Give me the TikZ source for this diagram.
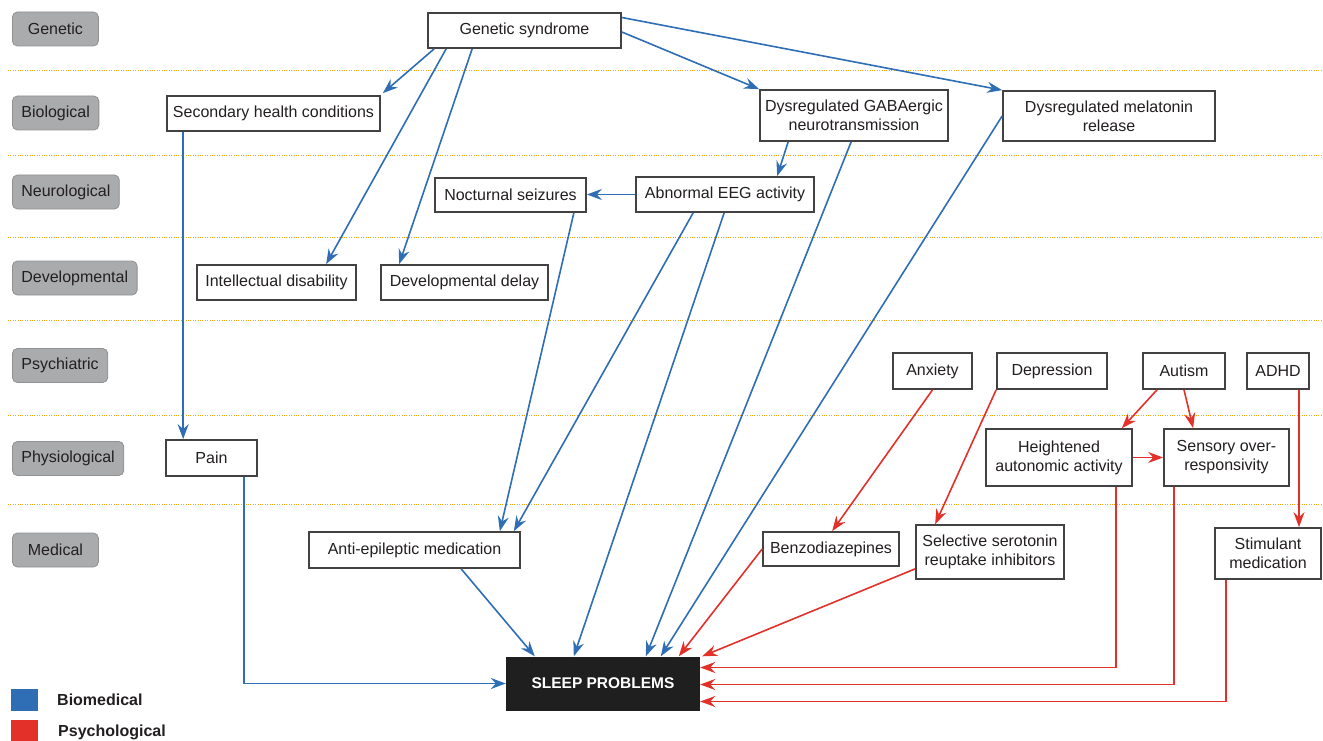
\documentclass[tikz,border=0pt]{standalone}
\usepackage{fontspec}
\setmainfont{Liberation Sans}
\usetikzlibrary{arrows.meta}
\definecolor{biomed}{HTML}{2F6DB5}
\definecolor{psych}{HTML}{E3312A}
\definecolor{tier}{HTML}{F7A30F}
\definecolor{tierbox}{HTML}{A9ABAD}
\definecolor{ink}{HTML}{231F20}

\begin{document}
\begin{tikzpicture}[x=1pt, y=-1pt,
  every node/.style={font=\fontsize{16}{19}\selectfont, text=ink},
  box/.style={draw=ink!85, line width=1.7pt, fill=white, inner sep=0pt, align=center},
  tierlabel/.style={anchor=west, fill=tierbox, draw=tierbox!85!black, line width=0.8pt,
    rounded corners=5pt, minimum width=86pt, minimum height=34pt, inner xsep=9pt},
  tierline/.style={tier, line width=1pt, dash pattern=on 1pt off 1.4pt},
  bio/.style={biomed, line width=1.6pt, -{Stealth[length=15pt, width=11pt, inset=5pt]}},
  psy/.style={psych, line width=1.6pt, -{Stealth[length=15pt, width=11pt, inset=5pt]}}]
  \useasboundingbox (0,0) rectangle (1323,741);

  \foreach \y in {71,156,237,320,415,504}
    \draw[tierline] (8,\y) -- (1323,\y);

  \foreach \y/\txt/\nm in {29/Genetic/genetic, 113/Biological/biological,
      192/Neurological/neurological, 278/Developmental/developmental,
      365.5/Psychiatric/psychiatric, 458.5/Physiological/physiological, 550/Medical/medical}
    \node[tierlabel] (\nm) at (12,\y) {\txt};

  \node[box, minimum width=193pt, minimum height=35pt] (gen) at (524.5,30.5) {Genetic syndrome};
  \node[box, minimum width=213pt, minimum height=35pt] (shc) at (273.5,113.5) {Secondary health conditions};
  \node[box, minimum width=188pt, minimum height=51pt] (gaba) at (854,115.5) {Dysregulated GABAergic\\neurotransmission};
  \node[box, minimum width=212pt, minimum height=50pt] (mel) at (1109,116) {Dysregulated melatonin\\release};
  \node[box, minimum width=151pt, minimum height=34pt] (noc) at (510.5,195) {Nocturnal seizures};
  \node[box, minimum width=178pt, minimum height=35pt] (eeg) at (725,194.5) {Abnormal EEG activity};
  \node[box, minimum width=159pt, minimum height=35pt] (intel) at (276.5,282.5) {Intellectual disability};
  \node[box, minimum width=167pt, minimum height=35pt] (ddel) at (464.5,282.5) {Developmental delay};
  \node[box, minimum width=79pt, minimum height=36pt] (anx) at (932.5,371) {Anxiety};
  \node[box, minimum width=110pt, minimum height=36pt] (dep) at (1052,371) {Depression};
  \node[box, minimum width=82pt, minimum height=36pt] (aut) at (1184,371) {Autism};
  \node[box, minimum width=62pt, minimum height=36pt] (adhd) at (1278,371) {ADHD};
  \node[box, minimum width=91pt, minimum height=36pt] (pain) at (211.5,458) {Pain};
  \node[box, minimum width=146pt, minimum height=57pt] (heat) at (1059,457.5) {Heightened\\autonomic activity};
  \node[box, minimum width=125pt, minimum height=57pt] (sens) at (1226.5,457.5) {Sensory over-\\responsivity};
  \node[box, minimum width=211pt, minimum height=36pt] (aed) at (414.5,550) {Anti-epileptic medication};
  \node[box, minimum width=136pt, minimum height=34pt] (benzo) at (831,549) {Benzodiazepines};
  \node[box, minimum width=148pt, minimum height=54pt] (ssri) at (990,552) {Selective serotonin\\reuptake inhibitors};
  \node[box, minimum width=106pt, minimum height=51pt] (stim) at (1268,553.5) {Stimulant\\medication};
  \node[fill=black!88, text=white, minimum width=194pt, minimum height=54pt,
    font=\fontsize{15.5}{18}\selectfont\bfseries] (sleep) at (603,683.5) {SLEEP PROBLEMS};

  \draw[bio] ([xshift=7pt]gen.south west) -- ([xshift=2pt,yshift=2pt]shc.north east);
  \draw[bio] ([xshift=19pt]gen.south west) -- ([xshift=130pt]intel.north west);
  \draw[bio] ([xshift=45pt]gen.south west) -- ([xshift=19pt]ddel.north west);
  \draw[bio] ([yshift=-1.5pt]gen.east) -- (gaba.north west);
  \draw[bio] ([yshift=13pt]gen.east) -- (mel.north west);
  \draw[bio] ([xshift=29pt]gaba.south west) -- ([xshift=142pt]eeg.north west);
  \draw[bio] (eeg.west) -- (eeg.west -| noc.east);
  \draw[bio] ([xshift=17pt]shc.south west) -- ([xshift=17pt]shc.south west |- pain.north);
  \draw[bio] ([xshift=-13pt]noc.south east) -- ([xshift=-21pt]aed.north east);
  \draw[bio] ([xshift=58pt]eeg.south west) -- ([xshift=-7pt]aed.north east);
  \draw[bio] ([xshift=89pt]eeg.south west) -- ([xshift=68pt]sleep.north west);
  \draw[bio] ([xshift=92pt]gaba.south west) -- ([xshift=140pt]sleep.north west);
  \draw[bio] (mel.west) -- ([xshift=155pt]sleep.north west);
  \draw[bio] ([xshift=153pt]aed.south west) -- ([xshift=29pt]sleep.north west);
  \draw[bio] ([xshift=79pt]pain.south west) |- (sleep.west);

  \draw[psy] (anx.south) -- ([xshift=70pt]benzo.north west);
  \draw[psy] (dep.south west) -- ([xshift=20pt]ssri.north west);
  \draw[psy] ([xshift=-27pt]aut.south) -- ([xshift=-11pt]heat.north east);
  \draw[psy] (aut.south) -- ([xshift=30pt]sens.north west);
  \draw[psy] (heat.east) -- (sens.west);
  \draw[psy] ([xshift=21pt]adhd.south) -- ([xshift=21pt]adhd.south |- stim.north);
  \draw[psy] (benzo.west) -- ([xshift=173pt]sleep.north west);
  \draw[psy] ([yshift=11pt]ssri.south west) -- ([xshift=2pt]sleep.north east);
  \draw[psy] ([xshift=-17pt]heat.south east) |- ([yshift=16pt]sleep.east);
  \draw[psy] ([xshift=11pt]sens.south west) |- ([yshift=-1pt]sleep.east);
  \draw[psy] ([xshift=12pt]stim.south west) |- ([yshift=-18pt]sleep.east);

  \fill[biomed] (11,689) rectangle (38,711);
  \fill[psych] (11,720) rectangle (38,741);
  \node[anchor=west, inner sep=0pt, font=\fontsize{16}{19}\selectfont\bfseries] (legbio) at (57,700) {Biomedical};
  \node[anchor=west, inner sep=0pt, font=\fontsize{16}{19}\selectfont\bfseries] (legpsy) at (58,732) {Psychological};
\end{tikzpicture}
\end{document}
